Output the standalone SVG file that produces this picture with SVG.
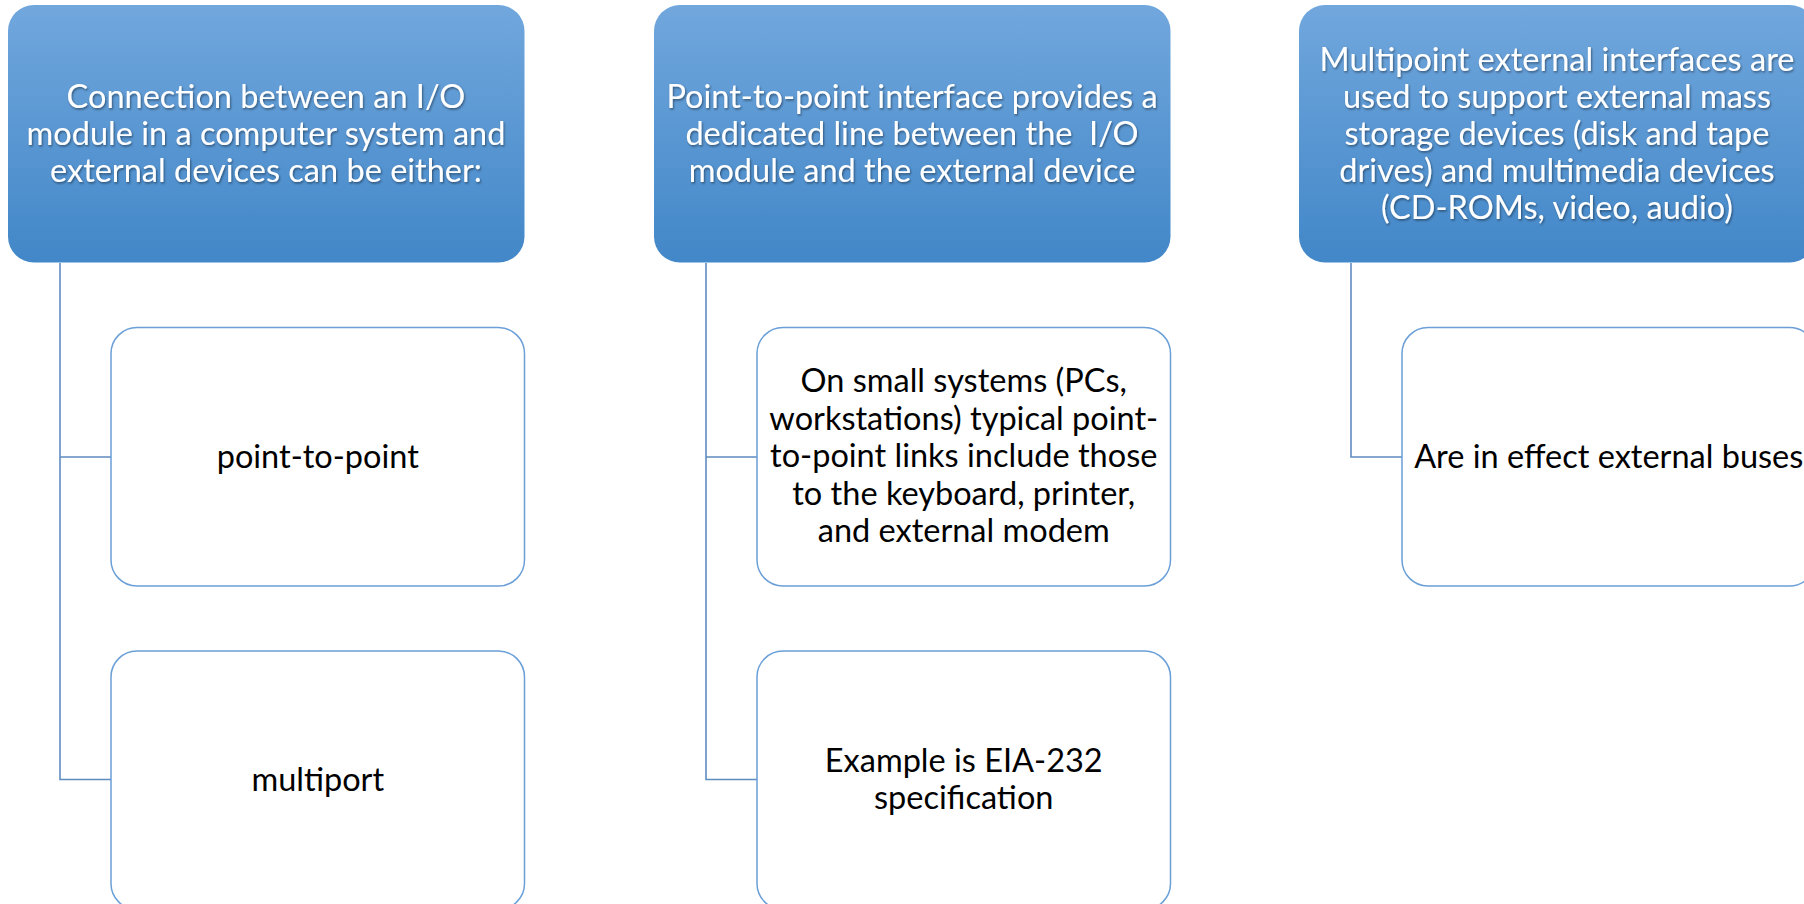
<svg xmlns="http://www.w3.org/2000/svg" width="1804" height="904" viewBox="0 0 1804 904">
<defs>
<linearGradient id="g" x1="0" y1="0" x2="0" y2="1">
<stop offset="0" stop-color="#71a7dd"/>
<stop offset="1" stop-color="#4287c8"/>
</linearGradient>
<filter id="sh" x="-10%" y="-10%" width="120%" height="130%">
<feDropShadow dx="1" dy="1.5" stdDeviation="1" flood-color="#000" flood-opacity="0.45"/>
</filter>
</defs>
<style>
.top{fill:url(#g);stroke:none}
.child{fill:#fff;stroke:#6a9fd8;stroke-width:1.5}
.conn{fill:none;stroke:#5f8cc0;stroke-width:1.6}
text{font-family:Lato,"Open Sans","Liberation Sans",sans-serif;font-size:32.5px;text-anchor:middle}
.wt{fill:#fff;filter:url(#sh)}
.bt{fill:#000}
</style>
<rect width="1804" height="904" fill="#fff"/>
<g id="connectors">
<path class="conn" d="M60,263 V779.5 H111 M60,457 H111"/>
<path class="conn" d="M706,263 V779.5 H757 M706,457 H757"/>
<path class="conn" d="M1351,263 V457 H1402"/>
</g>
<g id="n1">
<rect class="top" x="8" y="5" width="516.5" height="257.5" rx="26"/>
<text class="wt"><tspan x="266" y="107.5">Connection between an I/O</tspan><tspan x="266" y="144.5">module in a computer system and</tspan><tspan x="266" y="181.5">external devices can be either:</tspan></text>
</g>
<g id="n1a">
<rect class="child" x="111" y="327.5" width="413.5" height="258.5" rx="26"/>
<text class="bt" x="317.75" y="467.5">point-to-point</text>
</g>
<g id="n1b">
<rect class="child" x="111" y="651" width="413.5" height="258.5" rx="26"/>
<text class="bt" x="317.75" y="790.5">multiport</text>
</g>
<g id="n2">
<rect class="top" x="654" y="5" width="516.5" height="257.5" rx="26"/>
<text class="wt"><tspan x="912" y="107.5">Point-to-point interface provides a</tspan><tspan x="912" y="144.5">dedicated line between the&#160; I/O</tspan><tspan x="912" y="181.5">module and the external device</tspan></text>
</g>
<g id="n2a">
<rect class="child" x="757" y="327.5" width="413.5" height="258.5" rx="26"/>
<text class="bt"><tspan x="963.75" y="392">On small systems (PCs,</tspan><tspan x="963.75" y="429.5">workstations) typical point-</tspan><tspan x="963.75" y="467">to-point links include those</tspan><tspan x="963.75" y="504.5">to the keyboard, printer,</tspan><tspan x="963.75" y="542">and external modem</tspan></text>
</g>
<g id="n2b">
<rect class="child" x="757" y="651" width="413.5" height="258.5" rx="26"/>
<text class="bt"><tspan x="963.75" y="772">Example is EIA-232</tspan><tspan x="963.75" y="809">specification</tspan></text>
</g>
<g id="n3">
<rect class="top" x="1299" y="5" width="516.5" height="257.5" rx="26"/>
<text class="wt"><tspan x="1557" y="70.5">Multipoint external interfaces are</tspan><tspan x="1557" y="107.5">used to support external mass</tspan><tspan x="1557" y="144.5">storage devices (disk and tape</tspan><tspan x="1557" y="181.5">drives) and multimedia devices</tspan><tspan x="1557" y="218.5">(CD-ROMs, video, audio)</tspan></text>
</g>
<g id="n3a">
<rect class="child" x="1402" y="327.5" width="413.5" height="258.5" rx="26"/>
<text class="bt" x="1608.75" y="467.5">Are in effect external buses</text>
</g>
</svg>
